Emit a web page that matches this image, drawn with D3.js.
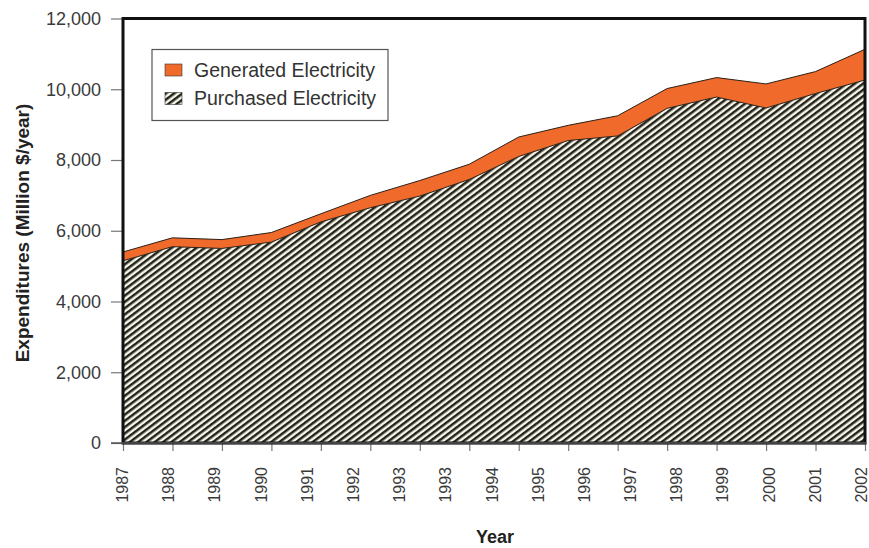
<!DOCTYPE html>
<html>
<head>
<meta charset="utf-8">
<script src="https://cdn.jsdelivr.net/npm/d3@7"></script>
<style>
  html, body { margin: 0; padding: 0; background: #ffffff; }
  svg { display: block; font-family: "Liberation Sans", Arial, Helvetica, sans-serif; }
</style>
</head>
<body>
<svg id="chart" width="869" height="548"></svg>
<script>
// Annual electricity expenditures, million $/year
const years = [1987, 1988, 1989, 1990, 1991, 1992, 1993, 1994, 1995, 1996, 1997, 1998, 1999, 2000, 2001, 2002];
const purchased = [5150, 5550, 5500, 5680, 6250, 6650, 6980, 7450, 8100, 8550, 8680, 9460, 9780, 9470, 9880, 10260];
const generated = [250, 250, 250, 270, 230, 350, 440, 430, 550, 430, 570, 560, 550, 680, 620, 870];

const seriesNames = ["Purchased Electricity", "Generated Electricity"];
const legendOrder = ["Generated Electricity", "Purchased Electricity"];
const yTicks = [0, 2000, 4000, 6000, 8000, 10000, 12000];
// Category labels printed under the axis (as on the printed figure, 1993 appears twice)
const xTickLabels = ["1987", "1988", "1989", "1990", "1991", "1992", "1993", "1993", "1994",
                     "1995", "1996", "1997", "1998", "1999", "2000", "2001", "2002"];

const orange = "#ef6a2b";
const stripeDark = "#22231a";
const stripeLight = "#f8f6ea";

const svg = d3.select("#chart");
const plotLeft = 123, plotRight = 865, plotTop = 18.5, plotBottom = 443;

const x = d3.scaleLinear().domain([d3.min(years), d3.max(years)]).range([plotLeft, plotRight]);
const y = d3.scaleLinear().domain([0, 12000]).range([plotBottom, plotTop]);
const xLab = d3.scalePoint().domain(d3.range(xTickLabels.length)).range([plotLeft, plotRight - 3]);

// diagonal hatch
const defs = svg.append("defs");
const pat = defs.append("pattern")
  .attr("id", "hatch")
  .attr("patternUnits", "userSpaceOnUse")
  .attr("width", 5).attr("height", 10)
  .attr("patternTransform", "rotate(53)");
pat.append("rect").attr("width", 5).attr("height", 10).attr("fill", stripeLight);
pat.append("rect").attr("width", 2.5).attr("height", 10).attr("fill", stripeDark);

// stacked data
const rows = years.map((yr, i) => ({
  year: yr,
  "Purchased Electricity": purchased[i],
  "Generated Electricity": generated[i]
}));
const stacked = d3.stack().keys(seriesNames)(rows);

const area = d3.area()
  .x(d => x(d.data.year))
  .y0(d => y(d[0]))
  .y1(d => y(d[1]));
const topLine = d3.line()
  .x(d => x(d.data.year))
  .y(d => y(d[1]));

const fills = { "Purchased Electricity": "url(#hatch)", "Generated Electricity": orange };

const plot = svg.append("g");
plot.selectAll("path.area")
  .data(stacked)
  .join("path")
  .attr("class", "area")
  .attr("d", area)
  .attr("fill", d => fills[d.key]);
plot.selectAll("path.edge")
  .data(stacked)
  .join("path")
  .attr("class", "edge")
  .attr("d", topLine)
  .attr("fill", "none")
  .attr("stroke", "#2b2118")
  .attr("stroke-width", 1);

// y axis
const yAxis = svg.append("g")
  .attr("transform", `translate(${plotLeft},0)`)
  .call(d3.axisLeft(y).tickValues(yTicks).tickFormat(d3.format(",")).tickSize(12).tickPadding(10));
yAxis.select(".domain").remove();
yAxis.selectAll(".tick line").attr("stroke", "#777").attr("stroke-width", 1.2);
yAxis.selectAll(".tick text")
  .attr("fill", "#3a3a3a")
  .style("font-size", "18px")
  .style("font-family", "'Liberation Sans', Arial, sans-serif");

// x axis ticks (one per data year)
const xAxis = svg.append("g")
  .attr("transform", `translate(0,${plotBottom})`)
  .call(d3.axisBottom(x).tickValues(years).tickFormat("").tickSize(8).tickSizeOuter(0));
xAxis.select(".domain").attr("stroke", "#555").attr("stroke-width", 1.5);
xAxis.selectAll(".tick line").attr("stroke", "#777").attr("stroke-width", 1.2);

// x category labels, rotated
svg.append("g")
  .selectAll("text")
  .data(xTickLabels)
  .join("text")
  .attr("transform", (d, i) => `translate(${xLab(i) + 5},467) rotate(-90)`)
  .attr("text-anchor", "end")
  .attr("fill", "#3a3a3a")
  .style("font-size", "16px")
  .text(d => d);

// frame
svg.append("rect")
  .attr("x", plotLeft).attr("y", plotTop)
  .attr("width", plotRight - plotLeft).attr("height", plotBottom - plotTop)
  .attr("fill", "none")
  .attr("stroke", "#111")
  .attr("stroke-width", 3);
// thin baseline over the frame's bottom edge
svg.append("line")
  .attr("x1", plotLeft - 12).attr("x2", plotRight + 1.5)
  .attr("y1", plotBottom).attr("y2", plotBottom)
  .attr("stroke", "#555").attr("stroke-width", 1.5);

// axis titles
svg.append("text")
  .attr("transform", "translate(29,233) rotate(-90)")
  .attr("text-anchor", "middle")
  .attr("font-weight", "bold")
  .attr("fill", "#222")
  .style("font-size", "19px")
  .text("Expenditures (Million $/year)");
svg.append("text")
  .attr("x", 495).attr("y", 543)
  .attr("text-anchor", "middle")
  .attr("font-weight", "bold")
  .attr("fill", "#222")
  .style("font-size", "18px")
  .text("Year");

// legend
const legend = svg.append("g");
legend.append("rect")
  .attr("x", 152).attr("y", 49.5)
  .attr("width", 236).attr("height", 71)
  .attr("fill", "#fff")
  .attr("stroke", "#555")
  .attr("stroke-width", 1.2);
const legItems = legend.selectAll("g.item")
  .data(legendOrder)
  .join("g")
  .attr("class", "item")
  .attr("transform", (d, i) => `translate(165,${64 + i * 28.5})`);
legItems.append("rect")
  .attr("width", 17).attr("height", 12)
  .attr("fill", d => fills[d])
  .attr("stroke", "#333").attr("stroke-width", 0.6);
legItems.append("text")
  .attr("x", 29).attr("y", 12.5)
  .attr("fill", "#333")
  .style("font-size", "19.5px")
  .text(d => d);
</script>
</body>
</html>
